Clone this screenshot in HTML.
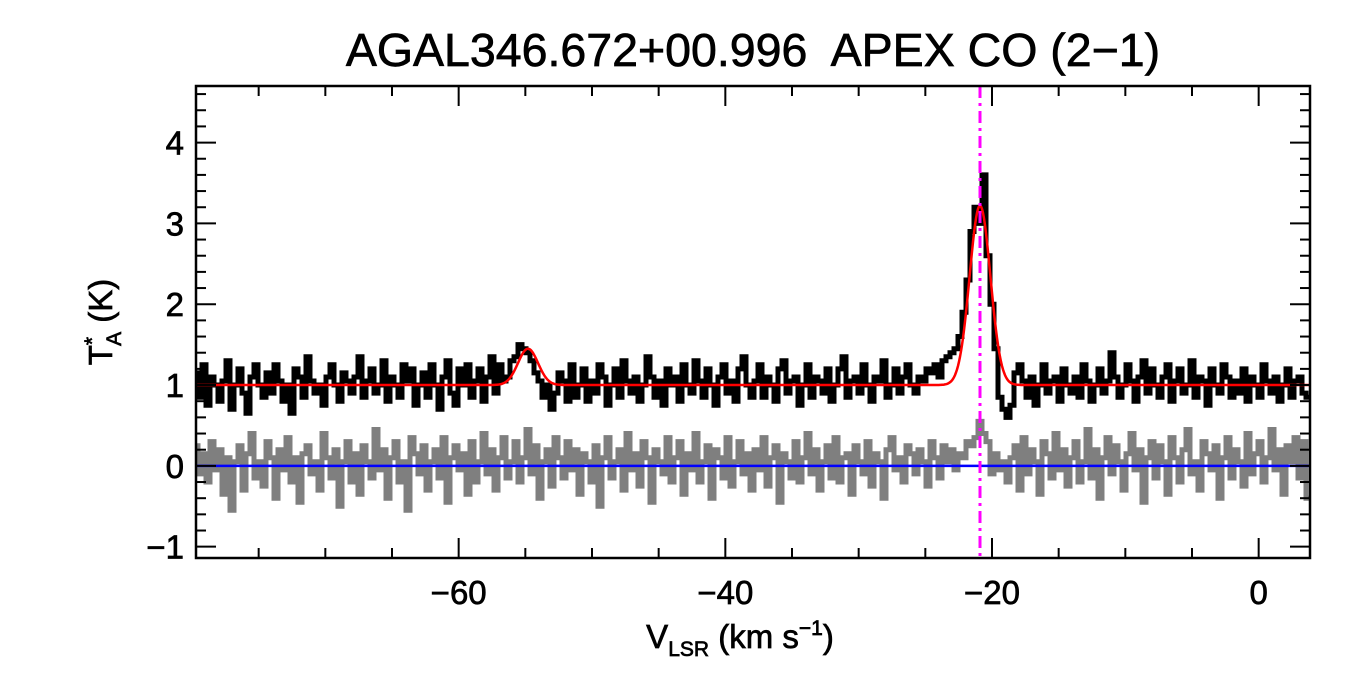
<!DOCTYPE html>
<html><head><meta charset="utf-8"><style>
body{margin:0;background:#fff;}
svg text{font-family:"Liberation Sans",sans-serif;fill:#000;stroke:#000;stroke-width:0.7;}
</style></head><body>
<svg id="c" width="1350" height="675" xmlns="http://www.w3.org/2000/svg">
<text x="753" y="66" font-size="46.5" text-anchor="middle" xml:space="preserve">AGAL346.672+00.996  APEX CO (2−1)</text>
<g id="plot"></g>
<g id="axes"></g>
<text x="740" y="648" font-size="33" text-anchor="middle">V<tspan font-size="21" dy="8">LSR</tspan><tspan dy="-8"> (km s</tspan><tspan font-size="21" dy="-13">−1</tspan><tspan dy="13">)</tspan></text>
<text transform="translate(112,322) rotate(-90)" font-size="33" text-anchor="middle">T<tspan font-size="21" dy="-13">*</tspan><tspan font-size="21" dy="22" dx="-9">A</tspan><tspan dy="-9"> (K)</tspan></text>
</svg>
<script>
const v0 = -79.7;
const dv = 0.3;
const spectrum = [
1.15,0.85,1.25,0.75,1.10,1.00,0.80,1.05,1.30,0.70,1.00,1.20,0.90,0.65,1.10,1.25,1.00,0.85,1.15,0.90,
1.25,1.05,0.80,1.00,0.65,1.20,1.10,0.85,1.35,1.05,0.90,1.00,0.75,1.10,1.25,1.00,0.80,1.15,1.05,0.90,
1.10,1.35,0.85,1.05,1.20,0.90,1.00,1.30,0.80,1.10,1.00,0.85,1.25,1.05,1.20,0.75,1.00,1.15,0.85,1.25,
1.00,0.70,1.10,1.30,0.90,0.75,1.20,1.00,1.25,0.85,1.05,1.20,0.80,1.10,1.35,0.90,1.25,1.05,1.10,1.30,
1.35,1.50,1.45,1.40,1.30,1.15,1.05,0.85,1.00,0.70,0.90,1.15,1.05,0.80,1.25,0.85,1.00,1.20,0.80,1.05,
0.90,1.25,1.10,0.75,1.00,1.20,0.85,1.30,1.05,0.90,1.10,0.80,1.00,1.35,1.10,0.85,1.05,0.75,1.20,1.00,
1.10,0.80,1.25,1.00,0.90,1.30,1.05,0.85,1.20,1.00,0.75,1.10,1.25,0.90,1.05,0.80,1.20,1.35,1.00,0.85,
1.05,1.25,0.85,1.10,1.00,0.80,1.20,1.30,0.90,1.05,1.10,0.75,1.00,1.25,0.85,1.10,1.05,0.90,1.20,0.80,
1.00,1.20,1.35,0.85,1.05,1.10,0.90,1.25,1.00,0.80,1.10,1.05,1.30,0.85,1.00,1.20,0.90,1.10,1.25,1.00,
0.90,1.10,1.05,1.20,1.15,1.25,1.10,1.30,1.35,1.40,1.45,1.60,1.90,2.30,2.90,3.20,3.00,3.60,2.60,2.00,
1.45,0.85,0.70,0.60,0.75,1.15,1.25,1.05,0.85,1.10,0.75,1.00,1.25,0.90,1.05,1.10,0.80,1.20,1.00,0.90,
1.10,0.85,1.25,1.05,0.80,1.00,1.20,0.90,1.05,1.40,1.10,0.85,1.00,1.25,1.05,0.80,1.10,1.30,0.90,1.20,
1.00,0.85,1.10,1.25,0.80,1.05,1.20,0.90,1.00,1.30,0.85,1.10,1.05,0.75,1.20,1.00,0.90,1.25,1.10,0.85,
1.05,0.90,1.20,0.80,1.10,1.00,0.85,1.25,1.05,0.90,1.10,0.80,1.00,1.20,0.85,1.05,1.10,0.90,0.85];
const residual = [
0.25,-0.10,0.15,-0.20,0.30,-0.05,0.20,-0.35,0.10,-0.55,0.05,0.25,-0.30,0.15,0.40,-0.15,0.05,-0.25,0.30,0.10,
-0.40,0.20,-0.05,0.35,-0.20,0.10,-0.45,0.15,0.25,-0.10,0.05,-0.30,0.40,0.10,-0.15,0.20,-0.50,0.05,0.30,-0.20,
0.15,-0.35,0.25,0.05,-0.15,0.45,-0.05,0.20,-0.40,0.10,0.30,-0.20,0.05,-0.55,0.35,0.15,-0.10,0.25,-0.30,0.05,
0.20,-0.15,0.35,-0.45,0.10,0.25,-0.05,0.15,-0.35,0.30,-0.20,0.05,0.40,-0.10,0.20,-0.30,0.10,0.35,-0.15,0.05,
0.30,-0.20,0.10,0.45,-0.10,0.25,-0.40,0.05,0.20,-0.25,0.35,0.10,-0.15,0.30,-0.05,0.20,-0.35,0.15,0.05,-0.20,
0.25,-0.50,0.10,0.35,-0.15,0.05,0.20,-0.30,0.40,-0.05,0.15,-0.25,0.30,0.10,-0.45,0.20,0.05,-0.10,0.35,-0.20,
0.10,0.30,-0.35,0.15,-0.05,0.40,-0.20,0.05,0.25,-0.40,0.20,0.10,-0.15,0.35,-0.25,0.05,0.30,-0.10,0.15,-0.30,
0.20,-0.05,0.35,-0.25,0.10,0.25,-0.45,0.15,0.05,-0.15,0.30,-0.20,0.10,0.40,-0.10,0.20,-0.30,0.05,0.25,-0.15,
0.35,-0.20,0.10,0.15,-0.35,0.25,0.05,-0.10,0.30,-0.25,0.15,0.05,-0.40,0.20,0.35,-0.05,0.10,-0.20,0.25,0.15,
-0.10,0.20,0.05,-0.25,0.30,0.10,-0.15,0.25,0.05,0.20,-0.05,0.15,0.10,0.30,0.25,0.35,0.55,0.40,0.30,-0.10,
0.15,-0.05,0.05,-0.20,0.10,0.25,-0.30,0.35,-0.10,0.20,0.05,-0.35,0.30,0.15,-0.15,0.40,-0.05,0.20,-0.25,0.10,
0.30,-0.20,0.05,0.45,-0.15,0.20,-0.40,0.10,0.35,-0.10,0.25,0.05,-0.30,0.15,0.40,-0.05,0.20,-0.45,0.10,0.30,
-0.15,0.25,0.05,-0.35,0.35,0.10,-0.20,0.20,0.45,-0.10,0.05,-0.30,0.30,0.15,-0.05,0.25,-0.40,0.10,0.35,-0.15,
0.20,0.05,-0.25,0.40,-0.10,0.15,0.30,-0.20,0.10,0.45,-0.05,0.20,-0.35,0.25,0.05,0.35,-0.15,0.30,-0.40];
const fitBaseline = 1.0;
const fitCenters = [-54.8, -20.9];
const fitAmps = [0.45, 2.22];
const fitSigmas = [0.75, 0.78];
const markerVelocity = -20.9;
const xTicks = [-60,-40,-20,0];
const yTicks = [-1,0,1,2,3,4];

const L=196,R=1310,T=86,B=558;
const xMin=-79.7,xMax=3.85,yMin=-1.14,yMax=4.7;
const X=v=>L+(v-xMin)/(xMax-xMin)*(R-L);
const Y=t=>B-(t-yMin)/(yMax-yMin)*(B-T);
const NS="http://www.w3.org/2000/svg";
const plot=document.getElementById('plot'), axes=document.getElementById('axes');
function mk(tag,attrs,parent){const e=document.createElementNS(NS,tag);for(const k in attrs)e.setAttribute(k,attrs[k]);parent.appendChild(e);return e;}
function fit(v){let s=fitBaseline;for(let k=0;k<fitCenters.length;k++)s+=fitAmps[k]*Math.exp(-0.5*Math.pow((v-fitCenters[k])/fitSigmas[k],2));return s;}
function stepPath(vals){let d='';vals.forEach((y,i)=>{const a=X(v0+dv*i-dv/2),b=X(v0+dv*i+dv/2);const xa=Math.max(a,L),xb=Math.min(b,R);d+=(i?'L':'M')+xa.toFixed(1)+','+Y(y).toFixed(1)+'L'+xb.toFixed(1)+','+Y(y).toFixed(1);});return d;}
let e;
e=mk('path',{d:stepPath(residual),fill:'none',stroke:'#7f7f7f','stroke-width':5},plot);


e=mk('path',{d:stepPath(spectrum),fill:'none',stroke:'#000','stroke-width':5},plot);


let fd='';for(let px=L;px<=R;px+=1){const v=xMin+(px-L)/(R-L)*(xMax-xMin);fd+=(px===L?'M':'L')+px+','+Y(fit(v)).toFixed(1);}
e=mk('path',{d:fd,fill:'none',stroke:'#ff0000','stroke-width':2.5},plot);


e=mk('line',{x1:L,x2:R,y1:Y(0),y2:Y(0),stroke:'#0000ff','stroke-width':2.5},plot);


e=mk('line',{x1:X(markerVelocity),x2:X(markerVelocity),y1:T,y2:B,stroke:'#ff00ff','stroke-width':3,'stroke-dasharray':'12,5,3,5'},plot);


e=mk('rect',{x:L,y:T,width:R-L,height:B-T,fill:'none',stroke:'#000','stroke-width':2.5},axes);


for(let v=-80;v<=4;v+=5){if(v<xMin||v>xMax)continue;const maj=v%20===0;const len=maj?20:10;
 mk('line',{x1:X(v),x2:X(v),y1:B,y2:B-len,stroke:'#000','stroke-width':2},axes);
 mk('line',{x1:X(v),x2:X(v),y1:T,y2:T+len,stroke:'#000','stroke-width':2},axes);}
xTicks.forEach(v=>{const t=mk('text',{x:X(v),y:B+46,'font-size':33,'text-anchor':'middle'},axes);t.textContent=(v<0?'−':'')+Math.abs(v);
 
 });
for(let k=-5;k<=23;k++){const y=k/5;if(y<yMin||y>yMax)continue;const maj=k%5===0;const len=maj?20:10;
 mk('line',{x1:L,x2:L+len,y1:Y(y),y2:Y(y),stroke:'#000','stroke-width':2},axes);
 mk('line',{x1:R,x2:R-len,y1:Y(y),y2:Y(y),stroke:'#000','stroke-width':2},axes);}
yTicks.forEach(y=>{const t=mk('text',{x:L-12,y:Y(y)+12,'font-size':33,'text-anchor':'end'},axes);t.textContent=(y<0?'−':'')+Math.abs(y);
 
 });
</script>
</body></html>
